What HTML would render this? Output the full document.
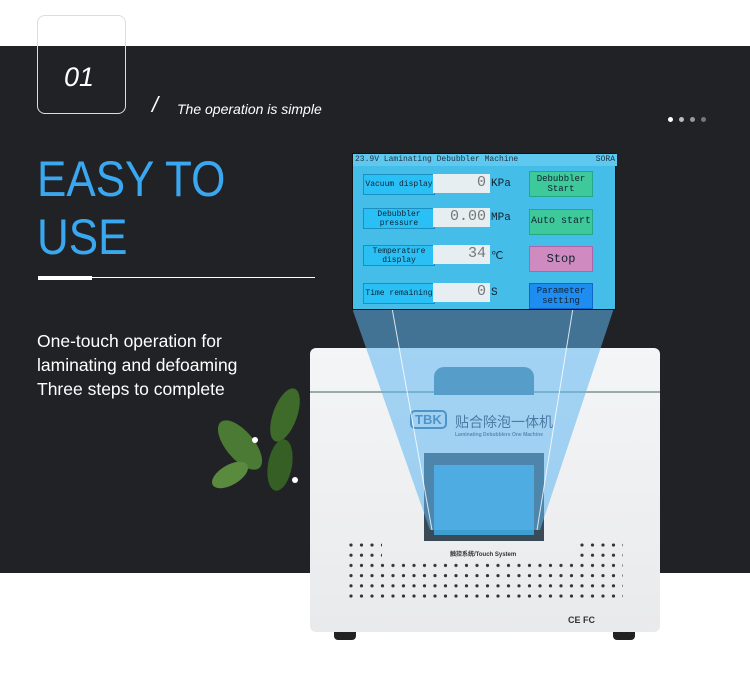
<!DOCTYPE html>
<html><head><meta charset="utf-8"><style>
*{margin:0;padding:0}
body{width:750px;height:674px;position:relative;background:#fff;overflow:hidden;font-family:"Liberation Sans","Noto Sans CJK SC",sans-serif}
.a{position:absolute}
.band{left:0;top:46px;width:750px;height:527px;background:#212226}
.box{left:37px;top:15px;width:87px;height:97px;border:1px solid #ddd;border-radius:8px}
.n01{left:64px;top:62px;color:#fff;font-style:italic;font-size:27px}
.sub{left:177px;top:101px;color:#fff;font-style:italic;font-size:14px}
.sl{left:152px;top:92px;color:#fff;font-size:22px;font-style:italic}
h1{position:absolute;left:37px;top:150px;color:#3aa8f0;font-size:50px;font-weight:normal;line-height:58px;transform:scaleX(0.88);transform-origin:0 0}
.p{left:37px;top:329px;color:#fff;font-size:17.5px;line-height:24px}
.scr{left:352px;top:153px;width:262px;height:155px;background:#45bde9;border:1px solid #111;font-family:"Liberation Mono",monospace}
.lb{position:absolute;background:#2bc0f5;border:1px solid #1a90c0;font-size:8px;color:#123;text-align:center;line-height:9px;display:flex;align-items:center;justify-content:center}
.vb{position:absolute;background:#e6eef2;color:#777;font-size:15px;text-align:right;padding-right:4px;box-sizing:border-box}
.un{position:absolute;font-size:11px;color:#123}
.bt{position:absolute;font-size:9px;text-align:center;color:#123;display:flex;align-items:center;justify-content:center;line-height:10px}
</style></head><body>
<div class="a band"></div>
<div class="a box"></div>
<div class="a n01">01</div>
<div class="a sl">/</div>
<div class="a sub">The operation is simple</div>
<div class="a" style="left:668px;top:109px">
<span style="display:inline-block;width:5px;height:5px;border-radius:50%;background:#fff;margin-right:6px"></span><span style="display:inline-block;width:5px;height:5px;border-radius:50%;background:#bbb;margin-right:6px"></span><span style="display:inline-block;width:5px;height:5px;border-radius:50%;background:#999;margin-right:6px"></span><span style="display:inline-block;width:5px;height:5px;border-radius:50%;background:#777"></span></div>
<h1>EASY TO<br>USE</h1>
<div class="a" style="left:38px;top:276px;width:54px;height:4px;background:#fff"></div>
<div class="a" style="left:92px;top:277px;width:223px;height:1px;background:#fff"></div>
<div class="a p">One-touch operation for<br>laminating and defoaming<br>Three steps to complete</div>
<!-- leaves -->
<svg class="a" style="left:200px;top:385px" width="115" height="115">
<ellipse cx="85" cy="30" rx="12" ry="28" fill="#3f6b2a" transform="rotate(20 85 30)"/>
<ellipse cx="40" cy="60" rx="14" ry="30" fill="#4a7a33" transform="rotate(-40 40 60)"/>
<ellipse cx="80" cy="80" rx="12" ry="26" fill="#355f24" transform="rotate(10 80 80)"/>
<ellipse cx="30" cy="90" rx="10" ry="20" fill="#5a8a3e" transform="rotate(60 30 90)"/>
<circle cx="55" cy="55" r="3" fill="#fff"/><circle cx="95" cy="95" r="3" fill="#fff"/>
</svg>
<!-- machine -->
<div class="a" style="left:310px;top:348px;width:350px;height:284px;background:linear-gradient(#f4f5f6,#e9eaec);border-radius:6px"></div>
<div class="a" style="left:310px;top:391px;width:350px;height:2px;background:#9aa"></div>
<div class="a" style="left:434px;top:367px;width:100px;height:28px;background:#4e7e9c;border-radius:10px 10px 0 0"></div>
<div class="a" style="left:334px;top:632px;width:22px;height:8px;background:#222;border-radius:0 0 4px 4px"></div>
<div class="a" style="left:613px;top:632px;width:22px;height:8px;background:#222;border-radius:0 0 4px 4px"></div>
<div class="a" style="left:410px;top:410px;color:#3a6a9a;font-size:13px;font-weight:bold;border:2px solid #3a6a9a;border-radius:5px;padding:0 3px">TBK</div>
<div class="a" style="left:455px;top:412px;color:#334;font-size:14px">贴合除泡一体机</div>
<div class="a" style="left:455px;top:432px;color:#556;font-size:5px;font-weight:bold">Laminating Debubblers One Machine</div>
<div class="a" style="left:424px;top:453px;width:120px;height:88px;background:#3a4a56"></div>
<div class="a" style="left:434px;top:465px;width:100px;height:70px;background:#3c9fd0"></div>
<div class="a" style="left:450px;top:549px;color:#333;font-size:6px;font-weight:bold">触控系统/Touch System</div>
<div class="a" style="left:568px;top:615px;color:#333;font-size:9px;font-weight:bold">CE FC</div>
<svg class="a" style="left:348px;top:542px" width="275" height="60">
<defs><pattern id="d" width="10.5" height="10.2" patternUnits="userSpaceOnUse"><circle cx="3" cy="3" r="1.6" fill="#333"/></pattern></defs>
<rect x="0" y="20" width="275" height="40" fill="url(#d)"/>
<rect x="0" y="0" width="34" height="20" fill="url(#d)"/>
<rect x="232" y="0" width="43" height="20" fill="url(#d)"/>
</svg>
<!-- beam -->
<svg class="a" style="left:0;top:0" width="750" height="674">
<polygon points="352,308 614,308 540,530 430,530" fill="#5fb6f0" opacity="0.55"/>
<line x1="392" y1="308" x2="432" y2="530" stroke="#fff" stroke-width="1" opacity="0.8"/>
<line x1="573" y1="308" x2="537" y2="530" stroke="#fff" stroke-width="1" opacity="0.8"/>
</svg>
<!-- screen -->
<div class="a scr">
<div style="position:absolute;left:0;top:0;width:262px;height:12px;background:#5ec8ef;font-size:8px;color:#234;line-height:12px;padding-left:2px;white-space:nowrap">23.9V Laminating Debubbler Machine<span style="position:absolute;right:2px">SORA</span></div>
<div class="lb" style="left:10px;top:20px;width:70px;height:19px">Vacuum display</div>
<div class="vb" style="left:80px;top:20px;width:57px;height:19px">0</div>
<div class="un" style="left:138px;top:24px">KPa</div>
<div class="lb" style="left:10px;top:54px;width:70px;height:19px">Debubbler<br>pressure</div>
<div class="vb" style="left:80px;top:54px;width:57px;height:19px">0.00</div>
<div class="un" style="left:138px;top:58px">MPa</div>
<div class="lb" style="left:10px;top:91px;width:70px;height:19px">Temperature<br>display</div>
<div class="vb" style="left:80px;top:91px;width:57px;height:19px">34</div>
<div class="un" style="left:138px;top:95px">℃</div>
<div class="lb" style="left:10px;top:129px;width:70px;height:19px">Time remaining</div>
<div class="vb" style="left:80px;top:129px;width:57px;height:19px">0</div>
<div class="un" style="left:138px;top:133px">S</div>
<div class="bt" style="left:176px;top:17px;width:62px;height:24px;background:#3ec99a;border:1px solid #2a8">Debubbler<br>Start</div>
<div class="bt" style="left:176px;top:55px;width:62px;height:24px;background:#3ec99a;border:1px solid #2a8;font-size:10px;white-space:nowrap">Auto start</div>
<div class="bt" style="left:176px;top:92px;width:62px;height:24px;background:#cf8bc0;border:1px solid #a6a;font-size:12px">Stop</div>
<div class="bt" style="left:176px;top:129px;width:62px;height:24px;background:#1f8df0;border:1px solid #16c">Parameter<br>setting</div>
</div>
</body></html>
